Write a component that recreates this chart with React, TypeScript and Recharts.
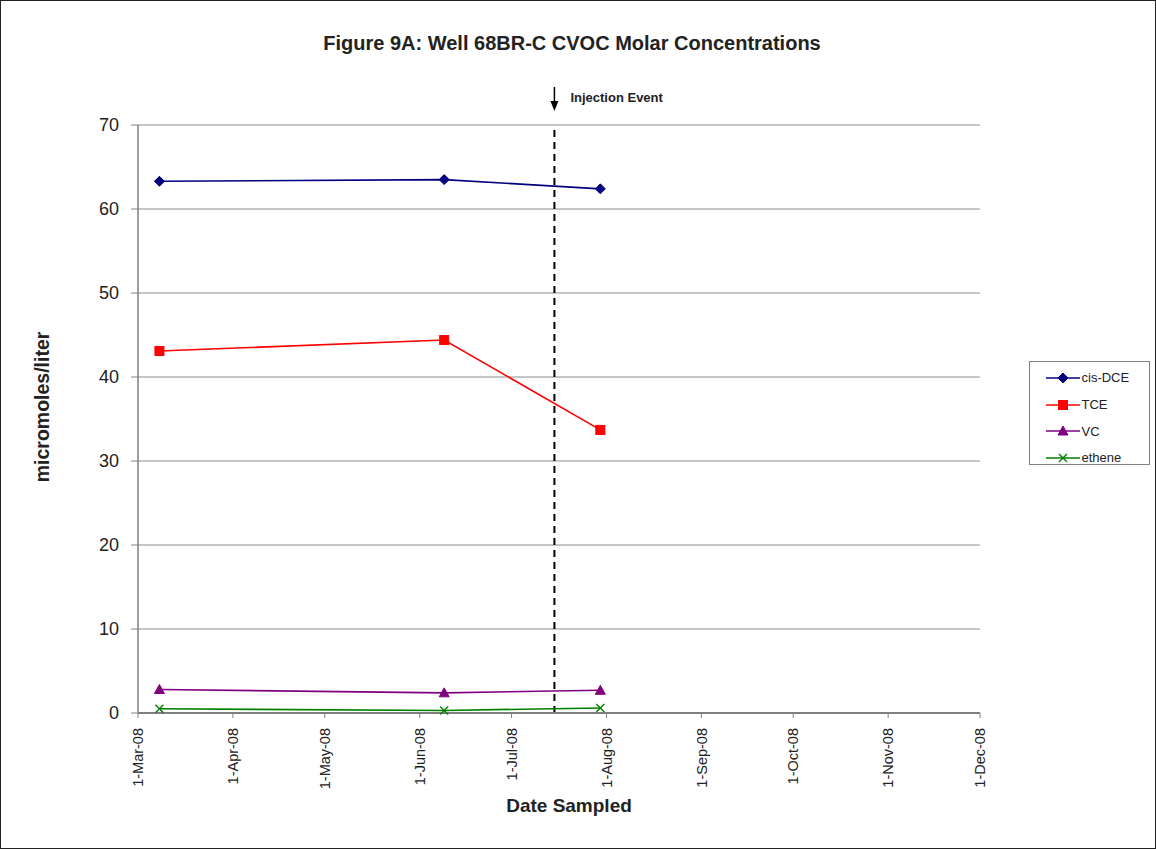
import React from 'react';
import { LineChart, Line, XAxis, YAxis, CartesianGrid, ReferenceLine, Legend } from 'recharts';

// ---- data ----
const SAMPLE_DATES = ['2008-03-08', '2008-06-09', '2008-07-30'];
const CIS_DCE = [63.3, 63.5, 62.4];
const TCE = [43.1, 44.4, 33.7];
const VC = [2.8, 2.4, 2.7];
const ETHENE = [0.5, 0.3, 0.6];

const TICK_DATES = ['2008-03-01', '2008-04-01', '2008-05-01', '2008-06-01', '2008-07-01', '2008-08-01', '2008-09-01', '2008-10-01', '2008-11-01', '2008-12-01'];
const TICK_LABELS = ['1-Mar-08', '1-Apr-08', '1-May-08', '1-Jun-08', '1-Jul-08', '1-Aug-08', '1-Sep-08', '1-Oct-08', '1-Nov-08', '1-Dec-08'];
const Y_TICKS = [0, 10, 20, 30, 40, 50, 60, 70];
const INJECTION_DATE = '2008-07-15';

const SERIES_NAMES = ['cis-DCE', 'TCE', 'VC', 'ethene'];
const SERIES_KEYS = ['cisDCE', 'tce', 'vc', 'ethene'];
const SERIES_COLORS = ['#000080', '#ff0000', '#800080', '#008000'];

const START = Date.UTC(2008, 2, 1);
const toDay = (s: string) => {
  const [y, m, d] = s.split('-').map(Number);
  return Math.round((Date.UTC(y, m - 1, d) - START) / 86400000);
};

const TICK_DAYS = TICK_DATES.map(toDay);
const INJECTION_DAY = toDay(INJECTION_DATE);

const data = SAMPLE_DATES.map((d, i) => ({
  day: toDay(d),
  cisDCE: CIS_DCE[i],
  tce: TCE[i],
  vc: VC[i],
  ethene: ETHENE[i],
}));

const FONT = 'Arial, "Liberation Sans", Helvetica, sans-serif';

function Marker({ kind, cx, cy, color }: { kind: number; cx: number; cy: number; color: string }) {
  if (kind === 0) {
    return <polygon points={`${cx},${cy - 5} ${cx + 5},${cy} ${cx},${cy + 5} ${cx - 5},${cy}`} fill={color} stroke={color} />;
  }
  if (kind === 1) {
    return <rect x={cx - 4.5} y={cy - 4.5} width={9} height={9} fill={color} stroke={color} />;
  }
  if (kind === 2) {
    return <polygon points={`${cx},${cy - 5} ${cx + 5},${cy + 4} ${cx - 5},${cy + 4}`} fill={color} stroke={color} />;
  }
  return (
    <g stroke={color} strokeWidth={1.4}>
      <line x1={cx - 4} y1={cy - 4} x2={cx + 4} y2={cy + 4} />
      <line x1={cx - 4} y1={cy + 4} x2={cx + 4} y2={cy - 4} />
    </g>
  );
}

const makeDot = (kind: number, color: string) => (props: any) => {
  const { cx, cy, index } = props;
  if (cx == null || cy == null) return <g key={`d-${kind}-${index}`} />;
  return (
    <g key={`d-${kind}-${index}`}>
      <Marker kind={kind} cx={cx} cy={cy} color={color} />
    </g>
  );
};

const XTick = (props: any) => {
  const { x, y, payload } = props;
  const idx = TICK_DAYS.indexOf(payload.value);
  const label = idx >= 0 ? TICK_LABELS[idx] : '';
  return (
    <g transform={`translate(${x},${y})`}>
      <text
        x={-8}
        y={0}
        dy="0.36em"
        transform="rotate(-90)"
        textAnchor="end"
        fontFamily={FONT}
        fontSize={14.5}
        fill="#222"
      >
        {label}
      </text>
    </g>
  );
};

const InjectionLabel = (props: any) => {
  const vb = props.viewBox || {};
  const x = vb.x ?? 0;
  const top = Math.min(vb.y ?? 125, (vb.y ?? 125) + (vb.height ?? 0));
  return (
    <g>
      <line x1={x} y1={top - 38} x2={x} y2={top - 22} stroke="#000" strokeWidth={1.5} />
      <polygon points={`${x - 4},${top - 24} ${x + 4},${top - 24} ${x},${top - 14}`} fill="#000" />
      <text x={x + 16} y={top - 23} fontFamily={FONT} fontSize={13} fontWeight="bold" fill="#222">
        Injection Event
      </text>
    </g>
  );
};

const YLabel = (props: any) => {
  const vb = props.viewBox || { x: 38, y: 125, width: 100, height: 588 };
  const cx = vb.x + 11;
  const cy = vb.y + vb.height / 2 - 12;
  return (
    <text
      x={cx}
      y={cy}
      transform={`rotate(-90 ${cx} ${cy})`}
      textAnchor="middle"
      fontFamily={FONT}
      fontSize={19.5}
      fontWeight="bold"
      fill="#222"
    >
      micromoles/liter
    </text>
  );
};

const XLabel = (props: any) => {
  const vb = props.viewBox || { x: 138, y: 713, width: 842, height: 100 };
  return (
    <text
      x={vb.x + vb.width / 2 + 10}
      y={vb.y + 99}
      textAnchor="middle"
      fontFamily={FONT}
      fontSize={19}
      fontWeight="bold"
      fill="#222"
    >
      Date Sampled
    </text>
  );
};

const LegendContent = () => (
  <div
    style={{
      border: '1px solid #808080',
      background: '#fff',
      width: 121,
      height: 104,
      boxSizing: 'border-box',
      paddingTop: 3,
    }}
  >
    {SERIES_NAMES.map((name, i) => (
      <div key={name} style={{ display: 'flex', alignItems: 'center', height: 26.7, marginLeft: 16 }}>
        <svg width={34} height={12}>
          <line x1={0} y1={6} x2={34} y2={6} stroke={SERIES_COLORS[i]} strokeWidth={1.5} />
          <Marker kind={i} cx={17} cy={6} color={SERIES_COLORS[i]} />
        </svg>
        <span style={{ fontFamily: FONT, fontSize: 13, color: '#222', marginLeft: 2 }}>{name}</span>
      </div>
    ))}
  </div>
);

export default function App() {
  return (
    <div
      style={{
        position: 'absolute',
        left: 0,
        top: 0,
        width: 1156,
        height: 849,
        background: '#fff',
        boxSizing: 'border-box',
        border: '1.5px solid #222',
      }}
    >
      <div
        style={{
          position: 'absolute',
          left: 271,
          width: 600,
          top: 31,
          textAlign: 'center',
          fontFamily: FONT,
          fontSize: 20,
          fontWeight: 'bold',
          color: '#222',
          zIndex: 2,
        }}
      >
        Figure 9A: Well 68BR-C CVOC Molar Concentrations
      </div>
      <div style={{ position: 'absolute', left: -1.5, top: -1.5 }}>
        <LineChart width={1156} height={849} data={data} margin={{ top: 125, right: 176, left: 38, bottom: 36 }}>
          <CartesianGrid vertical={false} stroke="#8c8c8c" strokeWidth={1} />
          <XAxis
            dataKey="day"
            type="number"
            domain={[TICK_DAYS[0], TICK_DAYS[TICK_DAYS.length - 1]]}
            ticks={TICK_DAYS}
            interval={0}
            height={100}
            tick={<XTick />}
            tickSize={5}
            tickLine={{ stroke: '#808080' }}
            axisLine={{ stroke: '#808080', strokeWidth: 2 }}
            allowDataOverflow
            label={<XLabel />}
          />
          <YAxis
            type="number"
            domain={[0, 70]}
            ticks={Y_TICKS}
            interval={0}
            width={100}
            tickSize={7}
            tickMargin={12}
            tick={{ fontFamily: FONT, fontSize: 18, fill: '#222' }}
            tickLine={{ stroke: '#808080' }}
            axisLine={{ stroke: '#808080', strokeWidth: 1.5 }}
            label={<YLabel />}
          />
          <ReferenceLine
            x={INJECTION_DAY}
            stroke="#000"
            strokeWidth={2}
            strokeDasharray="7 5"
            label={<InjectionLabel />}
          />
          {SERIES_KEYS.map((k, i) => (
            <Line
              key={k}
              type="linear"
              dataKey={k}
              name={SERIES_NAMES[i]}
              stroke={SERIES_COLORS[i]}
              strokeWidth={1.6}
              dot={makeDot(i, SERIES_COLORS[i])}
              activeDot={false}
              isAnimationActive={false}
            />
          ))}
          <Legend
            layout="horizontal"
            verticalAlign="middle"
            align="center"
            content={<LegendContent />}
            wrapperStyle={{ position: 'absolute', left: 1029, top: 361, width: 121, height: 104 }}
          />
        </LineChart>
      </div>
    </div>
  );
}
